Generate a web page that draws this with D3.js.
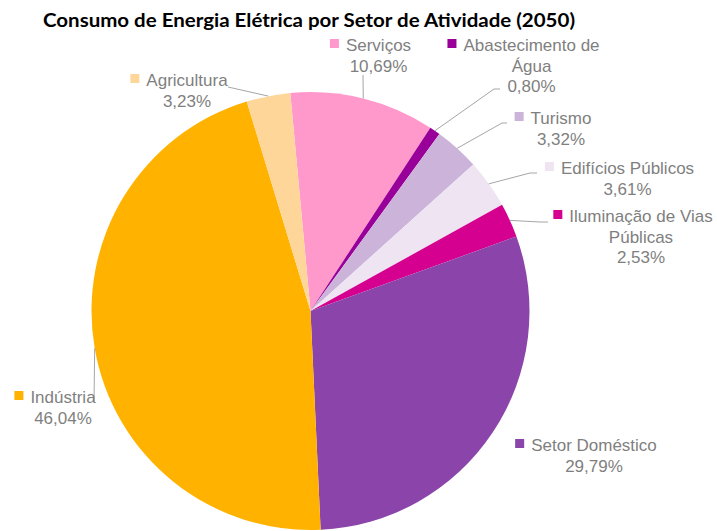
<!DOCTYPE html>
<html>
<head>
<meta charset="utf-8">
<script src="https://cdn.jsdelivr.net/npm/d3@7"></script>
<style>
  body { margin: 0; background: #fff; }
  svg { display: block; }
  .lbl { font-family: "Liberation Sans", Arial, sans-serif; font-size: 17px; fill: #7f7f7f; }
  .titulo { font-family: Lato, "Open Sans", sans-serif; font-weight: bold; font-size: 19px; fill: #000; }
</style>
</head>
<body>
<div id="grafico"></div>
<script>
// dados
const setores = ["Serviços", "Abastecimento de Água", "Turismo", "Edifícios Públicos",
  "Iluminação de Vias Públicas", "Setor Doméstico", "Indústria", "Agricultura"];
const valores = [10.69, 0.80, 3.32, 3.61, 2.53, 29.79, 46.04, 3.23];
const cores = ["#ff99cc", "#990099", "#ccb3d9", "#efe4f2", "#d5008f", "#8b44aa", "#ffb300", "#ffd699"];
// linhas de texto de cada rotulo (o nome quebra como no original)
const linhasNome = [["Serviços"], ["Abastecimento de", "Água"], ["Turismo"], ["Edifícios Públicos"],
  ["Iluminação de Vias", "Públicas"], ["Setor Doméstico"], ["Indústria"], ["Agricultura"]];

const largura = 717, altura = 531;
const cx = 310.5, cy = 311, raio = 219;
const inicio = -5.3 * Math.PI / 180;

// posicao dos rotulos: centro x do texto, linha de base da 1a linha, pontos da linha guia
const posRotulos = [
  {x: 378.5, y: 51,  guia: [[363, 75]]},
  {x: 531.5, y: 51,  guia: [[500, 89], [494, 89]]},
  {x: 561,   y: 124, guia: [[507, 123], [502, 123]]},
  {x: 627.5, y: 174, guia: [[537, 173], [530, 173]]},
  {x: 641,   y: 222, guia: [[548, 222], [540, 222]]},
  {x: 594,   y: 451, guia: null},
  {x: 63,    y: 403, guia: [[94, 402]]},
  {x: 187,   y: 86,  guia: [[228, 87]]}
];
const entrelinha = 20.5;

const locale = d3.formatLocale({decimal: ",", thousands: ".", grouping: [3], currency: ["", ""]});
const fmt = locale.format(".2f");

const svg = d3.select("#grafico").append("svg")
  .attr("width", largura).attr("height", altura);

svg.append("text").attr("class", "titulo")
  .attr("x", 43).attr("y", 27)
  .attr("textLength", 532).attr("lengthAdjust", "spacingAndGlyphs")
  .text("Consumo de Energia Elétrica por Setor de Atividade (2050)");

const pie = d3.pie().sort(null).startAngle(inicio).endAngle(inicio + 2 * Math.PI);
const arcos = pie(valores);
const arc = d3.arc().innerRadius(0).outerRadius(raio);
const arcBorda = d3.arc().innerRadius(raio).outerRadius(raio);

const g = svg.append("g").attr("transform", `translate(${cx},${cy})`);
g.selectAll("path.fatia").data(arcos).join("path")
  .attr("class", "fatia")
  .attr("d", arc)
  .attr("fill", (d, i) => cores[i]);

// linhas guia
arcos.forEach((d, i) => {
  const p = posRotulos[i];
  if (!p.guia) return;
  const c = arcBorda.centroid(d);
  const pts = p.guia.concat([[cx + c[0], cy + c[1]]]);
  svg.append("path")
    .attr("d", d3.line()(pts))
    .attr("fill", "none")
    .attr("stroke", "#a6a6a6")
    .attr("stroke-width", 1);
});

// rotulos
arcos.forEach((d, i) => {
  const p = posRotulos[i];
  const linhas = linhasNome[i].concat([fmt(valores[i]) + "%"]);
  const t = svg.append("text").attr("class", "lbl").attr("text-anchor", "middle");
  linhas.forEach((l, k) => {
    t.append("tspan").attr("x", p.x).attr("y", p.y + k * entrelinha).text(l);
  });
  // quadradinho da legenda ao lado da primeira linha
  const w = t.select("tspan").node().getComputedTextLength();
  svg.append("rect")
    .attr("x", p.x - w / 2 - 16).attr("y", p.y - 12)
    .attr("width", 9).attr("height", 9)
    .attr("fill", cores[i]);
});
</script>
</body>
</html>
